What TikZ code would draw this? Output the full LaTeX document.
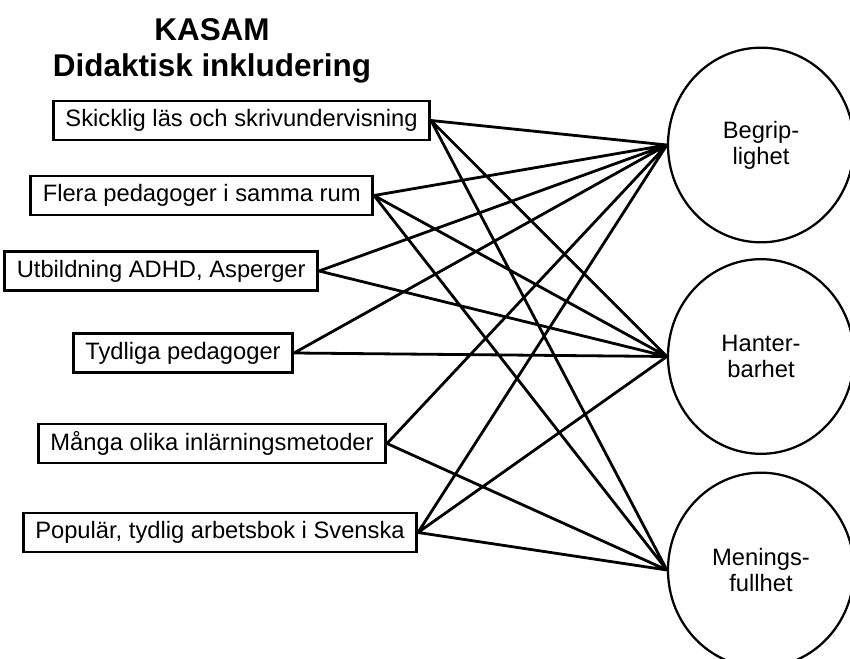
\documentclass[tikz,border=0pt]{standalone}
\usepackage{fontspec}
\setmainfont{Liberation Sans}
\usetikzlibrary{shapes.geometric}

\tikzset{
  faktor/.style={draw,line width=2pt,inner xsep=9pt,inner ysep=0pt,
    minimum height=29.25pt,anchor=east,font=\fontsize{17.8}{20}\selectfont},
  kasam/.style={draw,ellipse,line width=1.7pt,inner sep=0pt,minimum width=139.5pt,
    minimum height=146pt,align=center,font=\fontsize{17.8}{19.5}\selectfont},
  rubrik/.style={anchor=base,font=\fontsize{23.6}{27.75}\selectfont\bfseries},
  led/.style={line width=2.1pt}
}

\begin{document}
\begin{tikzpicture}[x=0.75pt,y=-0.75pt]
    \useasboundingbox (0,0) rectangle (850,659);
    % rubrik
    \node[rubrik] (T1) at (212,40.5) {KASAM};
    \node[rubrik] (T2) at (212,77) {Didaktisk inkludering};
    % faktorer
    \node[faktor] (A) at (431,120.5) {Skicklig läs och skrivundervisning};
    \node[faktor] (B) at (374,195.5) {Flera pedagoger i samma rum};
    \node[faktor] (C) at (319,271) {Utbildning ADHD, Asperger};
    \node[faktor] (D) at (294,353) {Tydliga pedagoger};
    \node[faktor] (E) at (387,443.5) {Många olika inlärningsmetoder};
    \node[faktor] (F) at (418,532.5) {Populär, tydlig arbetsbok i Svenska};
    % KASAM
    \node[kasam] (Be) at (761,145) {Begrip-\\lighet};
    \node[kasam] (Ha) at (761,356.5) {Hanter-\\barhet};
    \node[kasam] (Me) at (761,570) {Menings-\\fullhet};
    \draw[led] (A.east)--(Be.west) (A.east)--(Ha.west) (A.east)--(Me.west)
      (B.east)--(Be.west) (B.east)--(Ha.west) (B.east)--(Me.west)
      (C.east)--(Be.west) (C.east)--(Ha.west)
      (D.east)--(Be.west) (D.east)--(Ha.west)
      (E.east)--(Be.west) (E.east)--(Me.west)
      (F.east)--(Be.west) (F.east)--(Ha.west) (F.east)--(Me.west);
\end{tikzpicture}
\end{document}
